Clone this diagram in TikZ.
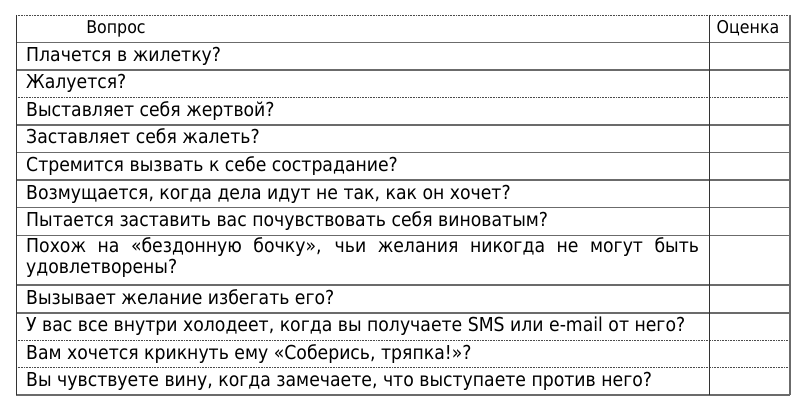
\documentclass[tikz,border=0pt]{standalone}
\usepackage{fontspec}
\setmainfont{DejaVu Sans Condensed}
\tikzset{
  heavyrule/.style={draw=black!58, line width=1.6pt},
  lightrule/.style={draw=black!70, line width=0.6pt, densely dotted},
  edgerule/.style={draw=black!80, line width=0.8pt},
  qtext/.style={anchor=base west, inner sep=0pt, font=\fontsize{19.2}{22}\selectfont},
  htext/.style={anchor=base, inner sep=0pt, font=\fontsize{17.6}{21}\selectfont},
}
\begin{document}
\begin{tikzpicture}[x=1pt,y=-1pt]
\useasboundingbox[fill=white] (0,0) rectangle (800,406);
% horizontal rules
\draw[lightrule] (16,15) -- (790,15);
\foreach \yy in {42.5,70,125,152.5,180,207.7,235.3,285,312.7,395}
  \draw[heavyrule] (16,\yy) -- (790,\yy);
\foreach \yy in {97.5,340,367.7}
  \draw[lightrule] (16,\yy) -- (790,\yy);
% vertical rules
\draw[edgerule] (16,15) -- (16,395);
\draw[edgerule] (709,15) -- (709,395);
\draw[heavyrule] (790,15) -- (790,395);
% header
\node[htext] (hq) at (116,34) {Вопрос};
\node[htext] (ho) at (748,34) {Оценка};
% rows
\node[qtext] (q1) at (26,61.5) {Плачется в жилетку?};
\node[qtext] (q2) at (26,89) {Жалуется?};
\node[qtext] (q3) at (26,116.5) {Выставляет себя жертвой?};
\node[qtext] (q4) at (26,144) {Заставляет себя жалеть?};
\node[qtext] (q5) at (26,171.5) {Стремится вызвать к себе сострадание?};
\node[qtext] (q6) at (26,199.2) {Возмущается, когда дела идут не так, как он хочет?};
\node[qtext] (q7) at (26,226.8) {Пытается заставить вас почувствовать себя виноватым?};
\node[qtext] (q8a) at (26,252.5) {\makebox[673pt][s]{Похож на «бездонную бочку», чьи желания никогда не могут быть}};
\node[qtext] (q8b) at (26,273.5) {удовлетворены?};
\node[qtext] (q9) at (26,304.2) {Вызывает желание избегать его?};
\node[qtext] (q10) at (26,331.5) {У вас все внутри холодеет, когда вы получаете SMS или e-mail от него?};
\node[qtext] (q11) at (26,359.2) {Вам хочется крикнуть ему «Соберись, тряпка!»?};
\node[qtext] (q12) at (26,386.5) {Вы чувствуете вину, когда замечаете, что выступаете против него?};
\end{tikzpicture}
\end{document}
